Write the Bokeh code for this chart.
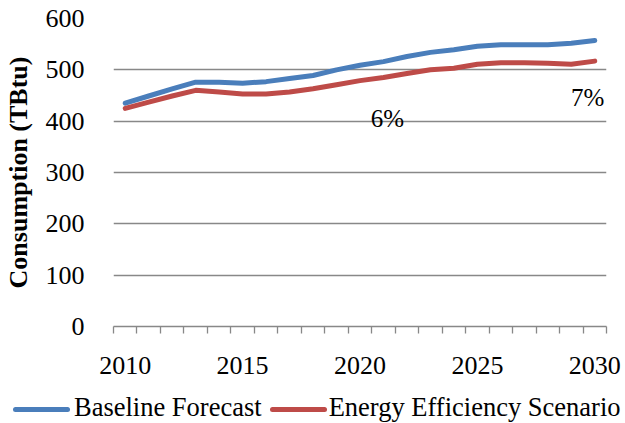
from bokeh.plotting import figure
from bokeh.models import Range1d, FixedTicker, ColumnDataSource, Div
from bokeh.layouts import column
from bokeh.core.properties import value
from bokeh.embed import file_html
from bokeh.resources import INLINE

years = list(range(2010, 2031))
baseline = [435, 449, 463, 476, 476, 474, 477, 483, 489, 500, 509, 516, 526, 534, 539, 546, 549, 549, 549, 552, 557]
efficiency = [425, 437, 449, 460, 457, 453, 453, 457, 463, 471, 479, 485, 493, 500, 503, 511, 514, 514, 513, 511, 517]
y_ticks = [0, 100, 200, 300, 400, 500, 600]
x_ticks = [2010, 2015, 2020, 2025, 2030]
label_years = [2021, 2030]
label_values = [406, 447]
label_texts = ["6%", "7%"]
series_names = ["Baseline Forecast", "Energy Efficiency Scenario"]
series_colors = ["#4A7EBB", "#BE4B48"]

FONT = "Liberation Serif"
GRID = "#888888"

p = figure(width=624, height=392, output_backend="svg", toolbar_location=None,
           x_range=Range1d(2009.5, 2030.5), y_range=Range1d(0, 600),
           min_border_left=111, min_border_right=18, min_border_top=18, min_border_bottom=66)
p.outline_line_color = None
p.background_fill_color = None
p.border_fill_color = None

p.xgrid.grid_line_color = None
p.ygrid.grid_line_color = GRID
p.ygrid.grid_line_width = 1.3
p.ygrid.ticker = FixedTicker(ticks=y_ticks)

p.yaxis.ticker = FixedTicker(ticks=y_ticks)
p.yaxis.axis_line_color = None
p.yaxis.major_tick_line_color = None
p.yaxis.minor_tick_line_color = None
p.yaxis.major_label_standoff = 23
p.yaxis.major_label_text_font = FONT
p.yaxis.major_label_text_font_size = "26px"
p.yaxis.major_label_text_color = "black"
p.yaxis.axis_label = "Consumption (TBtu)"
p.yaxis.axis_label_text_font = FONT
p.yaxis.axis_label_text_font_size = "26px"
p.yaxis.axis_label_text_font_style = "bold"
p.yaxis.axis_label_text_color = "black"
p.yaxis.axis_label_standoff = 10

p.xaxis.ticker = FixedTicker(ticks=x_ticks, minor_ticks=[y - 0.5 for y in years] + [years[-1] + 0.5])
p.xaxis.axis_line_color = GRID
p.xaxis.axis_line_width = 1.3
p.xaxis.major_tick_out = 0
p.xaxis.major_tick_in = 0
p.xaxis.minor_tick_out = 7
p.xaxis.minor_tick_in = 0
p.xaxis.minor_tick_line_color = GRID
p.xaxis.minor_tick_line_width = 1.3
p.xaxis.major_label_standoff = 23
p.xaxis.major_label_text_font = FONT
p.xaxis.major_label_text_font_size = "26px"
p.xaxis.major_label_text_color = "black"

p.line(years, baseline, line_color=series_colors[0], line_width=5, line_join="round", line_cap="round")
p.line(years, efficiency, line_color=series_colors[1], line_width=5, line_join="round", line_cap="round")

src = ColumnDataSource(dict(x=label_years, y=label_values, t=label_texts, dx=[4, -7]))
p.text(x="x", y="y", text="t", x_offset="dx", source=src, text_align="center", text_baseline="middle",
       text_font=value(FONT), text_font_size="25px", text_color="black")

# legend strip below the chart (HTML, so it may extend beyond the plot frame)
bar = ("<span style='display:inline-block;width:57px;height:5px;border-radius:3px;"
       "background:{c};vertical-align:middle;margin:0 {r}px 0 {l}px'></span>")
html = ("<div style=\"font-family:'Liberation Serif';font-size:26.5px;line-height:30px;"
        "white-space:nowrap;padding-left:13px;color:black\">"
        + bar.format(c=series_colors[0], l=0, r=4) + series_names[0]
        + bar.format(c=series_colors[1], l=8, r=2) + series_names[1]
        + "</div>")
lg = Div(text=html, width=624, height=30, margin=(0, 0, 0, 0))

layout = column(p, lg, spacing=0)
open("out.html", "w").write(file_html(layout, INLINE))
